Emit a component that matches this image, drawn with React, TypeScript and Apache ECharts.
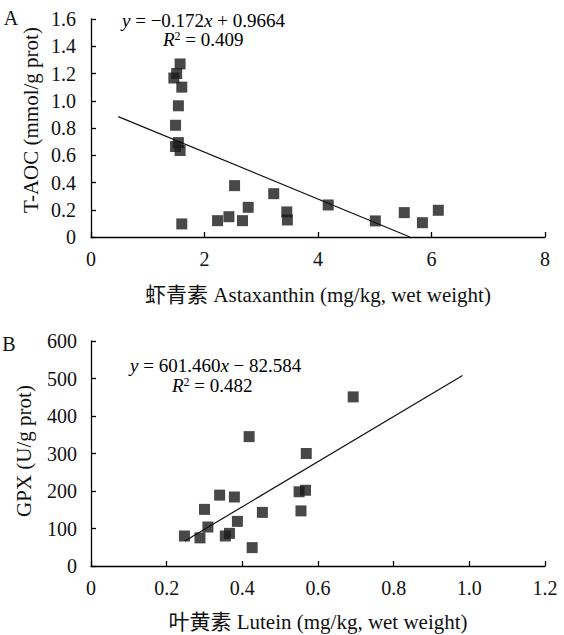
import React, { useEffect, useRef } from "react";
import * as echarts from "echarts";

// Panel A: Astaxanthin vs T-AOC
const astaX = [1.57, 1.51, 1.46, 1.6, 1.54, 1.49, 1.54, 1.49, 1.57, 1.6, 2.23, 2.43, 2.53, 2.67, 2.77, 3.22, 3.45, 3.46, 4.18, 5.01, 5.52, 5.84, 6.12];
const taocY = [1.27, 1.2, 1.167, 1.1, 0.963, 0.82, 0.693, 0.664, 0.635, 0.096, 0.12, 0.149, 0.377, 0.12, 0.218, 0.318, 0.184, 0.125, 0.235, 0.118, 0.179, 0.105, 0.196];
const trendAX = [0.48, 5.62];
const slopeA = -0.172;
const interceptA = 0.9664;

// Panel B: Lutein vs GPX
const luteinX = [0.247, 0.288, 0.3, 0.309, 0.34, 0.355, 0.366, 0.379, 0.387, 0.418, 0.426, 0.453, 0.55, 0.567, 0.555, 0.569, 0.693];
const gpxY = [80, 75, 151, 104, 189, 80, 87, 184, 119, 345, 49, 143, 198, 202, 147, 300, 451];
const trendBX = [0.248, 0.982];
const slopeB = 601.46;
const interceptB = -82.584;

const xTicksA = ["0", "2", "4", "6", "8"];
const yTicksA = ["0", "0.2", "0.4", "0.6", "0.8", "1.0", "1.2", "1.4", "1.6"];
const xTicksB = ["0", "0.2", "0.4", "0.6", "0.8", "1.0", "1.2"];
const yTicksB = ["0", "100", "200", "300", "400", "500", "600"];

const FONT = "Liberation Serif";
const CJK = "Liberation Serif, Noto Sans CJK SC";

export default function App() {
  const ref = useRef<HTMLDivElement>(null);
  useEffect(() => {
    if (!ref.current) return;
    const chart = echarts.init(ref.current, undefined, { renderer: "svg" });
    const axisLine = { show: true, lineStyle: { color: "#000", width: 1.3 } };
    const axisTick = { show: true, inside: true, length: 5, lineStyle: { color: "#000", width: 1.3 } };
    const labelStyle = { color: "#111", fontFamily: FONT, fontSize: 20 };
    const mkLabel = (ticks: string[], step: number, margin: number) => ({
      ...labelStyle,
      margin,
      formatter: (v: number) => {
        const i = Math.round(v / step);
        return ticks[i] ?? "";
      },
    });
    const richBase = {
      n: { fontFamily: FONT, fontSize: 19, color: "#111" },
      i: { fontFamily: FONT, fontSize: 19, fontStyle: "italic" as const, color: "#111" },
      s: { fontFamily: FONT, fontSize: 12, color: "#111", verticalAlign: "top" as const, padding: [0, 0, 5, 0] },
    };
    const text = (x: number, y: number, t: string, size: number, extra: any = {}) => ({
      type: "text", x, y, ...extra,
      style: { text: t, fontFamily: FONT, fontSize: size, fill: "#111", align: "center", verticalAlign: "middle" },
    });
    const option: any = {
      animation: false,
      grid: [
        { left: 91, top: 19, width: 454, height: 218 },
        { left: 91, top: 341, width: 454, height: 225 },
      ],
      xAxis: [
        {
          gridIndex: 0, type: "value", min: 0, max: 8, interval: 2,
          axisLine, axisTick, splitLine: { show: false },
          axisLabel: mkLabel(xTicksA, 2, 12),
        },
        {
          gridIndex: 1, type: "value", min: 0, max: 1.2, interval: 0.2,
          axisLine, axisTick, splitLine: { show: false },
          axisLabel: mkLabel(xTicksB, 0.2, 12),
        },
      ],
      yAxis: [
        {
          gridIndex: 0, type: "value", min: 0, max: 1.6, interval: 0.2,
          axisLine, axisTick, splitLine: { show: false },
          axisLabel: mkLabel(yTicksA, 0.2, 15),
        },
        {
          gridIndex: 1, type: "value", min: 0, max: 600, interval: 100,
          axisLine, axisTick, splitLine: { show: false },
          axisLabel: mkLabel(yTicksB, 100, 14),
        },
      ],
      series: [
        {
          type: "line", xAxisIndex: 0, yAxisIndex: 0, symbol: "none",
          lineStyle: { color: "#111", width: 1.2 },
          data: trendAX.map((x) => [x, slopeA * x + interceptA]),
        },
        {
          type: "scatter", xAxisIndex: 0, yAxisIndex: 0, symbol: "rect", symbolSize: 11,
          itemStyle: { color: "#1a1a1a" },
          data: astaX.map((x, i) => [x, taocY[i]]),
        },
        {
          type: "line", xAxisIndex: 1, yAxisIndex: 1, symbol: "none",
          lineStyle: { color: "#111", width: 1.2 },
          data: trendBX.map((x) => [x, slopeB * x + interceptB]),
        },
        {
          type: "scatter", xAxisIndex: 1, yAxisIndex: 1, symbol: "rect", symbolSize: 11,
          itemStyle: { color: "#1a1a1a" },
          data: luteinX.map((x, i) => [x, gpxY[i]]),
        },
      ],
      graphic: [
        text(11, 18, "A", 20),
        text(9, 344, "B", 20),
        {
          type: "text", x: 122, y: 20.5,
          style: { text: "{i|y}{n| = −0.172}{i|x}{n| + 0.9664}", rich: richBase, verticalAlign: "middle", align: "left" },
        },
        {
          type: "text", x: 163, y: 39.5,
          style: { text: "{i|R}{s|2}{n| = 0.409}", rich: richBase, verticalAlign: "middle", align: "left" },
        },
        {
          type: "text", x: 130, y: 365.5,
          style: { text: "{i|y}{n| = 601.460}{i|x}{n| − 82.584}", rich: richBase, verticalAlign: "middle", align: "left" },
        },
        {
          type: "text", x: 172, y: 385.5,
          style: { text: "{i|R}{s|2}{n| = 0.482}", rich: richBase, verticalAlign: "middle", align: "left" },
        },
        {
          type: "text", x: 318, y: 295,
          style: { text: "虾青素 Astaxanthin (mg/kg, wet weight)", fontFamily: CJK, fontSize: 21, fill: "#111", align: "center", verticalAlign: "middle" },
        },
        {
          type: "text", x: 318, y: 622,
          style: { text: "叶黄素 Lutein (mg/kg, wet weight)", fontFamily: CJK, fontSize: 21, fill: "#111", align: "center", verticalAlign: "middle" },
        },
        text(31, 120, "T-AOC (mmol/g prot)", 21, { rotation: Math.PI / 2 }),
        text(24, 451, "GPX (U/g prot)", 21, { rotation: Math.PI / 2 }),
      ],
    };
    chart.setOption(option);
    return () => chart.dispose();
  }, []);
  return (
    <div
      ref={ref}
      style={{ position: "fixed", left: 0, top: 0, width: 564, height: 635, background: "#fff" }}
    />
  );
}
